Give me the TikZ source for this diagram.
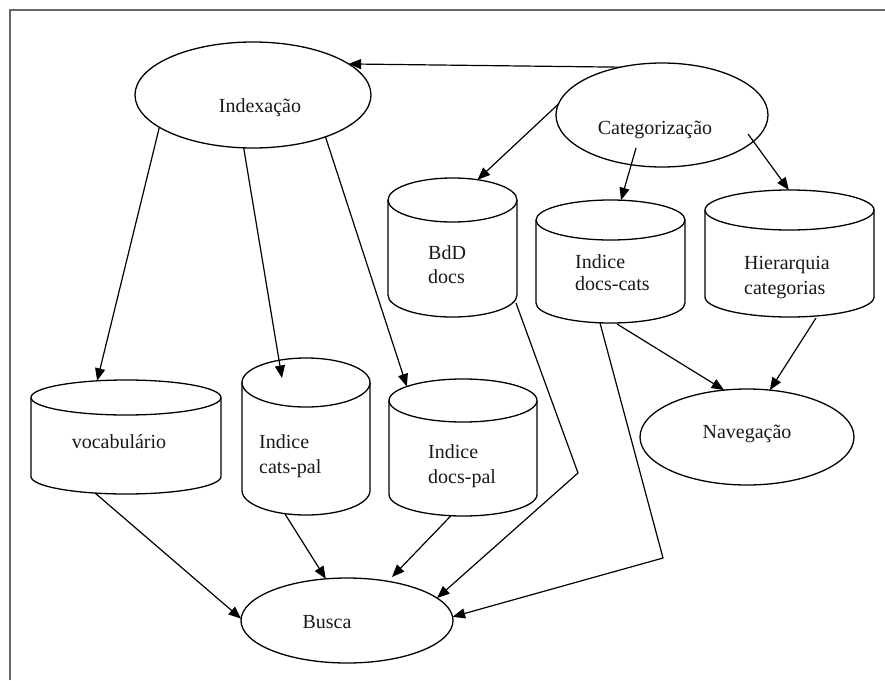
\documentclass[tikz,border=0pt]{standalone}
\usepackage{fontspec}
\setmainfont{Liberation Serif}
\usetikzlibrary{shapes.geometric,arrows.meta,calc}
\tikzset{
  shapeline/.style={line width=1.3pt, draw=black},
  ell/.style={ellipse, shapeline, inner sep=0pt, outer sep=0pt},
  cyltop/.style={ellipse, shapeline, inner sep=0pt, outer sep=0pt},
  txt/.style={font=\fontsize{20}{24}\selectfont, inner sep=0pt, text=black!90},
  arr/.style={line width=1.2pt, -{Triangle[length=12.5pt,width=10pt]}},
  frame/.style={line width=2pt, draw=black!60}
}
\newcommand{\mycyl}[6]{%
  \pgfmathsetmacro{\cyTop}{-(#3+#6)}%
  \pgfmathsetmacro{\cyBot}{-(#4-#6)}%
  \node[cyltop, minimum width={2*#5}, minimum height={2*#6}] (#1) at (#2,\cyTop) {};
  \coordinate (#1-b) at (#2,\cyBot);
  \draw[shapeline] (#1.west) -- ($(#1-b)+(-#5,0)$) arc[start angle=180, end angle=360, x radius=#5, y radius=#6] -- (#1.east);
}
\begin{document}
\begin{tikzpicture}[x=1pt,y=1pt]
\useasboundingbox (0,0) rectangle (885,-680);
\draw[frame] (10,-680) -- (10,-10) -- (885,-10);

% ellipses
\node[ell, minimum width=236, minimum height=106] (indx) at (253,-95) {};
\node[ell, minimum width=212, minimum height=104] (cat) at (662,-115) {};
\node[ell, minimum width=214, minimum height=96] (nav) at (747,-437) {};
\node[ell, minimum width=212, minimum height=85] (busca) at (347,-620.5) {};

% cylinders: name, cx, top, bottom, rx, ry
\mycyl{bdd}{452.5}{178}{317}{64.5}{22}
\mycyl{dcats}{610.5}{200}{323}{74.5}{20}
\mycyl{hier}{789.5}{190}{317}{84.5}{20}
\mycyl{voc}{126}{380}{494}{95}{17.5}
\mycyl{cpal}{306}{358}{515}{64}{24.5}
\mycyl{dpal}{463}{379}{516}{74}{21.5}

% texts
\node[txt, anchor=base] (indxt) at (260,-112) {Indexação};
\node[txt, anchor=base] (catt) at (655,-134) {Categorização};
\node[txt, anchor=base] (navt) at (747,-438) {Navegação};
\node[txt, anchor=base] (buscat) at (327,-628) {Busca};
\node[txt, anchor=base] (voct) at (119,-448) {vocabulário};
\node[txt, anchor=base west] (bddt1) at (428,-259) {BdD};
\node[txt, anchor=base west] (bddt2) at (428,-283) {docs};
\node[txt, anchor=base west] (dcatst1) at (575,-268) {Indice};
\node[txt, anchor=base west] (dcatst2) at (575,-290) {docs-cats};
\node[txt, anchor=base west] (hiert1) at (744,-269) {Hierarquia};
\node[txt, anchor=base west] (hiert2) at (744,-294) {categorias};
\node[txt, anchor=base west] (cpalt1) at (259,-448) {Indice};
\node[txt, anchor=base west] (cpalt2) at (259,-473) {cats-pal};
\node[txt, anchor=base west] (dpalt1) at (428,-458) {Indice};
\node[txt, anchor=base west] (dpalt2) at (428,-483) {docs-pal};

% connectors
\draw[arr] (cat.131) -- (indx.18);
\draw[arr] (cat.174) -- (bdd.39);
\draw[arr] ($(cat.center)+(-26,-33)$) -- (dcats.62);
\draw[arr] ($(cat.center)+(86,-19)$) -- (hier.92);
\draw[arr] (indx.199) -- (voc.150);
\draw[arr] (indx.260) -- ($(cpal.center)+(-24,4.5)$);
\draw[arr] (indx.330) -- (dpal.166);
\coordinate (k1) at (578,-473);
\coordinate (k2) at (663,-558);
\draw[arr] ($(bdd-b)+(63.5,-8)$) -- (k1) -- (busca.14);
\draw[arr] ($(dcats-b)+(-10.5,-20)$) -- (k2) -- (busca.2);
\draw[arr] ($(dcats-b)+(6.5,-21)$) -- (nav.116);
\draw[arr] ($(hier-b)+(26.5,-21)$) -- (nav.64);
\draw[arr] ($(voc-b)+(-31,-16.5)$) -- (busca.179);
\draw[arr] ($(cpal-b)+(-21,-23.5)$) -- (busca.117);
\draw[arr] ($(dpal-b)+(-12,-21.2)$) -- ($(busca.center)+(45,43.5)$);
\end{tikzpicture}
\end{document}
